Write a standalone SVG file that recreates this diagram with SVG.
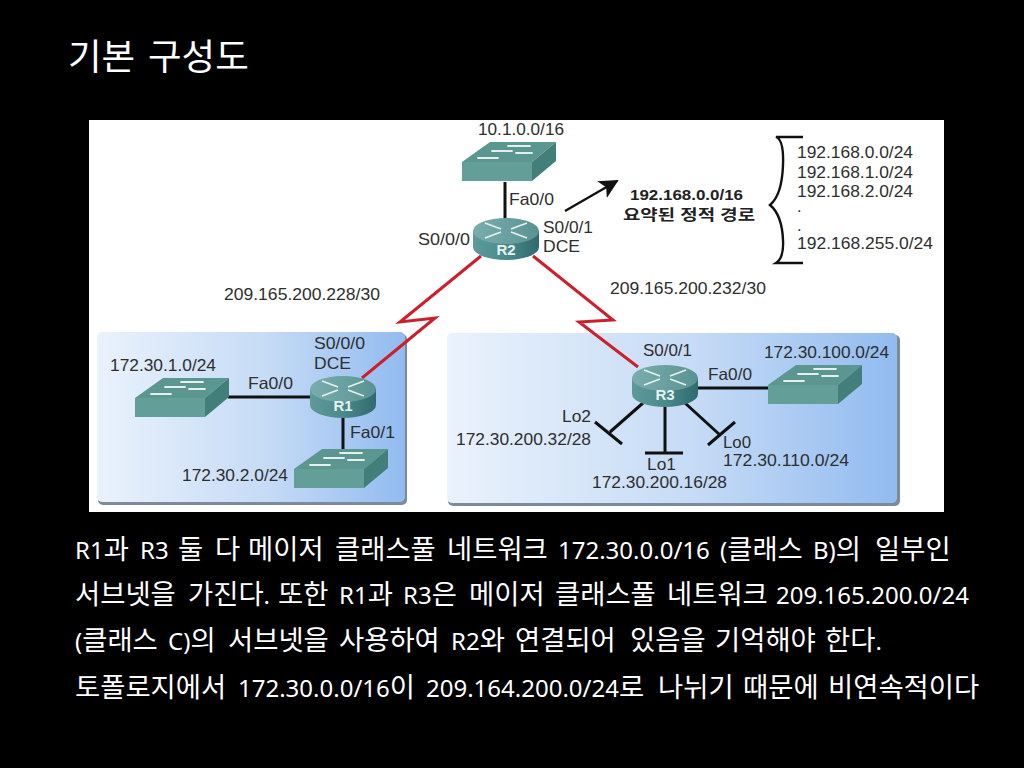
<svg xmlns="http://www.w3.org/2000/svg" width="1024" height="768" viewBox="0 0 1024 768">
<style>
.l{font-family:"Liberation Sans",Arial,sans-serif;font-size:16.5px;fill:#2e2e2e}
.b{font-family:"Noto Sans",sans-serif;font-size:24px;fill:#fff}
.h{font-family:"Noto Sans CJK KR",sans-serif;font-size:27.4px}
.k{font-family:"Liberation Sans","Noto Sans CJK KR",sans-serif;font-size:15px;font-weight:bold;fill:#222}
.rt{font-family:"Liberation Sans",sans-serif;font-size:15px;font-weight:bold;fill:#e8f2f2;text-anchor:middle}
.w{stroke:#111;stroke-width:3;fill:none}
.red{stroke:#cc1f2b;stroke-width:3;fill:none;stroke-linejoin:miter}
.ar{stroke:#e4efee;stroke-width:1.8;fill:none}
</style>
<defs>
<linearGradient id="pg" x1="0" y1="0" x2="1" y2="0"><stop offset="0" stop-color="#eaf2fc"/><stop offset="0.55" stop-color="#c6dbf6"/><stop offset="1" stop-color="#92bbf0"/></linearGradient>
<linearGradient id="rb" x1="0" y1="0" x2="1" y2="0"><stop offset="0" stop-color="#5f9a9a"/><stop offset="0.5" stop-color="#4a8a8c"/><stop offset="1" stop-color="#2f6a6e"/></linearGradient>
<linearGradient id="rt2" x1="0" y1="0" x2="1" y2="0"><stop offset="0" stop-color="#7aaeae"/><stop offset="1" stop-color="#5a9292"/></linearGradient>
<marker id="ah" viewBox="0 0 10 10" refX="9" refY="5" markerWidth="8" markerHeight="8" orient="auto" markerUnits="strokeWidth"><path d="M0 0L10 5L0 10L2.5 5z" fill="#111"/></marker>
<g id="sw">
<path d="M0 20L28 0L94 0L70 20z" fill="#5c9690"/>
<path d="M0 20H70V39H0z" fill="#649e98"/>
<path d="M70 20L94 0V19L70 39z" fill="#437f7a"/>
<path d="M16 16H36M30 9H50M46 4H68M54 11H70" class="ar" stroke-linecap="round"/>
</g>
<g id="rt">
<path d="M-33 -7V9A33 13 0 0 0 33 9V-7z" fill="url(#rb)"/>
<ellipse cx="0" cy="-7" rx="33" ry="13" fill="url(#rt2)"/>
<path d="M-21 -15L-5 -9M5 -6L21 0M-21 0L-5 -6M5 -9L21 -15" class="ar"/>
</g>
</defs>
<rect width="1024" height="768" fill="#000"/>
<text x="68" y="70" font-family="'Noto Sans CJK KR',sans-serif" font-size="36.5" fill="#fff">기본 <tspan x="148">구성도</tspan></text>
<g id="figure-bg"><rect x="89" y="120" width="855" height="392" fill="#fff"/></g>
<g id="area-left"><rect x="98" y="334" width="309" height="171" rx="5" fill="#7d8a99"/><rect x="97" y="332" width="308" height="170" rx="5" fill="url(#pg)"/></g>
<g id="area-right"><rect x="448" y="335" width="452" height="171" rx="5" fill="#7d8a99"/><rect x="447" y="333" width="450" height="170" rx="5" fill="url(#pg)"/></g>
<g id="connectors">
<path class="w" d="M505 182V220"/>
<path class="w" d="M228 397H312"/>
<path class="w" d="M343 417V449"/>
<path class="w" d="M695 388H770"/>
<path class="red" d="M481 256L400 322L435 318L362 378"/>
<path class="red" d="M533 256L613 320L579 322L638 367"/>
<path class="w" d="M643 403L610 432M595 422L622 444"/>
<path class="w" d="M665 405V453M645 453H683"/>
<path class="w" d="M685 403L720 435M735 422L708 445"/>
<path d="M565 211L617 181" stroke="#111" stroke-width="2.4" fill="none" marker-end="url(#ah)"/>
<path d="M803 137H776Q784 140 783 165Q782 195 770 205Q782 215 783 240Q784 258 776 263H803" stroke="#111" stroke-width="2.4" fill="none"/>
</g>
<g id="sw-top"><use href="#sw" x="462" y="142"/><text class="l" x="478" y="135" textLength="86" lengthAdjust="spacingAndGlyphs">10.1.0.0/16</text></g>
<g id="R2"><use href="#rt" x="506" y="238"/><text class="rt" x="506" y="255">R2</text></g>
<g id="R1"><use href="#rt" x="343" y="396"/><text class="rt" x="343" y="411">R1</text></g>
<g id="R3"><use href="#rt" x="665" y="385"/><text class="rt" x="665" y="400">R3</text></g>
<g id="sw-1"><use href="#sw" x="135" y="378"/><text class="l" x="110" y="371" textLength="106" lengthAdjust="spacingAndGlyphs">172.30.1.0/24</text></g>
<g id="sw-2"><use href="#sw" x="294" y="449"/><text class="l" x="182" y="481" textLength="106" lengthAdjust="spacingAndGlyphs">172.30.2.0/24</text></g>
<g id="sw-3"><use href="#sw" x="768" y="365"/><text class="l" x="764" y="358" textLength="125" lengthAdjust="spacingAndGlyphs">172.30.100.0/24</text></g>
<g id="labels">
<text class="l" x="509" y="205" textLength="45" lengthAdjust="spacingAndGlyphs">Fa0/0</text>
<text class="l" x="418" y="245" textLength="52" lengthAdjust="spacingAndGlyphs">S0/0/0</text>
<text class="l" x="543" y="233" textLength="50" lengthAdjust="spacingAndGlyphs">S0/0/1</text>
<text class="l" x="543" y="252" textLength="37" lengthAdjust="spacingAndGlyphs">DCE</text>
<text class="l" x="224" y="300" textLength="156" lengthAdjust="spacingAndGlyphs">209.165.200.228/30</text>
<text class="l" x="610" y="294" textLength="156" lengthAdjust="spacingAndGlyphs">209.165.200.232/30</text>
<text class="l" x="314" y="349" textLength="51" lengthAdjust="spacingAndGlyphs">S0/0/0</text>
<text class="l" x="314" y="369" textLength="37" lengthAdjust="spacingAndGlyphs">DCE</text>
<text class="l" x="248" y="389" textLength="45" lengthAdjust="spacingAndGlyphs">Fa0/0</text>
<text class="l" x="350" y="438" textLength="45" lengthAdjust="spacingAndGlyphs">Fa0/1</text>
<text class="l" x="643" y="356" textLength="49" lengthAdjust="spacingAndGlyphs">S0/0/1</text>
<text class="l" x="708" y="380" textLength="44" lengthAdjust="spacingAndGlyphs">Fa0/0</text>
<text class="l" x="562" y="422" textLength="29" lengthAdjust="spacingAndGlyphs">Lo2</text>
<text class="l" x="456" y="445" textLength="135" lengthAdjust="spacingAndGlyphs">172.30.200.32/28</text>
<text class="l" x="647" y="470" textLength="29" lengthAdjust="spacingAndGlyphs">Lo1</text>
<text class="l" x="592" y="488" textLength="135" lengthAdjust="spacingAndGlyphs">172.30.200.16/28</text>
<text class="l" x="723" y="448" textLength="28" lengthAdjust="spacingAndGlyphs">Lo0</text>
<text class="l" x="723" y="466" textLength="126" lengthAdjust="spacingAndGlyphs">172.30.110.0/24</text>
<text class="k" x="630" y="200" textLength="113" lengthAdjust="spacingAndGlyphs">192.168.0.0/16</text>
<text class="k" x="623" y="220" textLength="132" lengthAdjust="spacingAndGlyphs">요약된 정적 경로</text>
<text class="l" x="797" y="158" textLength="116" lengthAdjust="spacingAndGlyphs">192.168.0.0/24</text>
<text class="l" x="797" y="178" textLength="116" lengthAdjust="spacingAndGlyphs">192.168.1.0/24</text>
<text class="l" x="797" y="197" textLength="116" lengthAdjust="spacingAndGlyphs">192.168.2.0/24</text>
<text class="l" x="797" y="212">.</text>
<text class="l" x="797" y="231">.</text>
<text class="l" x="797" y="249" textLength="136" lengthAdjust="spacingAndGlyphs">192.168.255.0/24</text>
</g>
<g id="body">
<text class="b" y="559"><tspan x="75">R1<tspan class="h">과</tspan> </tspan><tspan x="140">R3 </tspan><tspan x="178" class="h">둘 </tspan><tspan x="215" class="h">다 </tspan><tspan x="248" class="h">메이저 </tspan><tspan x="335" class="h">클래스풀 </tspan><tspan x="447" class="h">네트워크 </tspan><tspan x="558">172.30.0.0/16 </tspan><tspan x="720">(<tspan class="h">클래스</tspan> </tspan><tspan x="813">B)<tspan class="h">의</tspan> </tspan><tspan x="875" class="h">일부인</tspan></text>
<text class="b" y="604"><tspan x="75" class="h">서브넷을 </tspan><tspan x="188"><tspan class="h">가진다</tspan>. </tspan><tspan x="278" class="h">또한 </tspan><tspan x="339">R1<tspan class="h">과</tspan> </tspan><tspan x="403">R3<tspan class="h">은</tspan> </tspan><tspan x="469" class="h">메이저 </tspan><tspan x="555" class="h">클래스풀 </tspan><tspan x="667" class="h">네트워크 </tspan><tspan x="776">209.165.200.0/24</tspan></text>
<text class="b" y="650"><tspan x="75">(<tspan class="h">클래스</tspan> </tspan><tspan x="168">C)<tspan class="h">의</tspan> </tspan><tspan x="228" class="h">서브넷을 </tspan><tspan x="339" class="h">사용하여 </tspan><tspan x="451">R2<tspan class="h">와</tspan> </tspan><tspan x="515" class="h">연결되어 </tspan><tspan x="630" class="h">있음을 </tspan><tspan x="715" class="h">기억해야 </tspan><tspan x="825"><tspan class="h">한다</tspan>.</tspan></text>
<text class="b" y="697"><tspan x="75" class="h">토폴로지에서 </tspan><tspan x="238">172.30.0.0/16<tspan class="h">이</tspan> </tspan><tspan x="426">209.164.200.0/24<tspan class="h">로</tspan> </tspan><tspan x="658" class="h">나뉘기 </tspan><tspan x="743" class="h">때문에 </tspan><tspan x="828" class="h">비연속적이다</tspan></text>
</g>
</svg>
